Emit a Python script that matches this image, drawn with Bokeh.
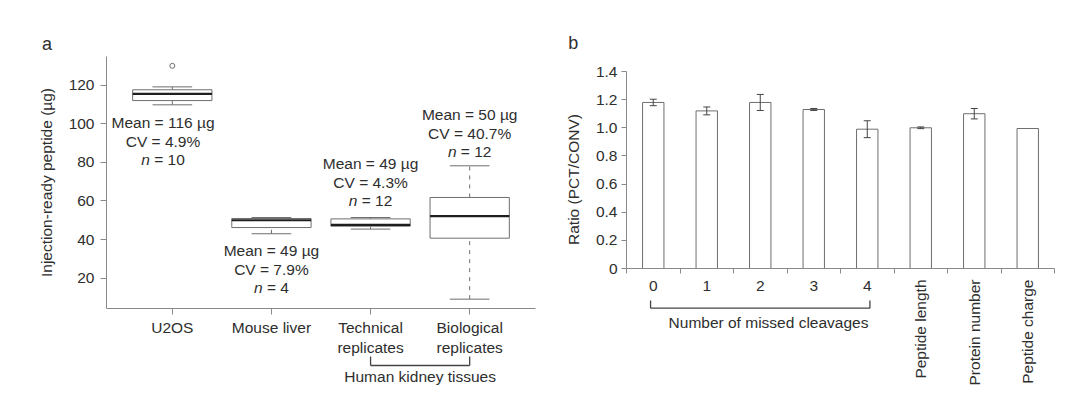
import math
from bokeh.plotting import figure
from bokeh.layouts import row
from bokeh.models import (Range1d, FixedTicker, ColumnDataSource, Label, LabelSet,
                          NumeralTickFormatter)
from bokeh.core.properties import value
from bokeh.embed import file_html
from bokeh.resources import INLINE

# ---------------- data: panel a (box plots) ----------------
groups = ["U2OS", "Mouse liver", "Technical replicates", "Biological replicates"]
group_tick_labels = ["U2OS", "Mouse liver", "Technical\nreplicates", "Biological\nreplicates"]
group_pos = [1, 2, 3, 4]
whisker_low = [109.8, 43.0, 45.4, 9.1]
q1 = [112.0, 46.2, 46.9, 40.7]
median = [115.5, 50.0, 47.6, 52.1]
q3 = [117.6, 50.9, 50.7, 61.8]
whisker_high = [119.1, 51.4, 51.4, 78.2]
outlier_pos = [1]
outlier_value = [130.0]
mean_ug = [116, 49, 49, 50]
cv_pct = [4.9, 7.9, 4.3, 40.7]
n_samples = [10, 4, 12, 12]
y_ticks_a = [20, 40, 60, 80, 100, 120]

# ---------------- data: panel b (bars) ----------------
categories_b = ["0", "1", "2", "3", "4", "Peptide length", "Protein number", "Peptide charge"]
ratio = [1.18, 1.12, 1.18, 1.13, 0.99, 1.00, 1.10, 0.995]
ratio_err = [0.023, 0.028, 0.057, 0.007, 0.060, 0.006, 0.037, 0.0]
y_ticks_b = [0, 0.2, 0.4, 0.6, 0.8, 1.0, 1.2, 1.4]

# ---------------- style / geometry ----------------
FONT = "Liberation Sans"
FS = 15.5
TXT = "#2e2e2e"
AXC = "#8a8a8a"
BOXC = "#6e6e6e"
DARK = "#444444"
FW, FH = 540, 409          # each panel

# axis box of each panel: pixel box inside the panel and the data limits it spans
A_BOX_PX = (106, 535, 56, 308)            # left, right, top, bottom
A_BOX_DATA = (0.336, 4.664, 4.26, 134.84)  # x0, x1, y0, y1
B_BOX_PX = (86, 514, 71, 268)
B_BOX_DATA = (-0.5, 7.5, 0.0, 1.4)


def full_ranges(box_px, box_data):
    l, r, t, b = box_px
    x0, x1, y0, y1 = box_data
    kx = (x1 - x0) / (r - l)
    ky = (y1 - y0) / (b - t)
    return (x0 - l * kx, x1 + (FW - r) * kx), (y0 - (FH - b) * ky, y1 + t * ky)


class Conv:
    def __init__(self, xr, yr):
        self.xr, self.yr = xr, yr

    def x(self, sx):
        return self.xr[0] + sx / FW * (self.xr[1] - self.xr[0])

    def y(self, sy):
        return self.yr[1] - sy / FH * (self.yr[1] - self.yr[0])

    def dyu(self, px):
        return px / FH * (self.yr[1] - self.yr[0])


def style_axis(ax, tick_out=6):
    ax.axis_line_color = AXC
    ax.major_tick_line_color = AXC
    ax.minor_tick_line_color = None
    ax.major_tick_in = 0
    ax.major_tick_out = tick_out
    ax.major_label_text_font = FONT
    ax.major_label_text_font_size = f"{FS}px"
    ax.major_label_text_color = TXT
    ax.axis_label_text_font = FONT
    ax.axis_label_text_font_size = f"{FS}px"
    ax.axis_label_text_font_style = "normal"
    ax.axis_label_text_color = TXT


def base_fig(xr, yr):
    p = figure(width=FW, height=FH, x_range=Range1d(*xr), y_range=Range1d(*yr),
               output_backend="svg", toolbar_location=None, min_border=0,
               min_border_left=0, min_border_right=0, min_border_top=0, min_border_bottom=0,
               background_fill_color="white", border_fill_color="white", outline_line_color=None)
    p.xgrid.visible = False
    p.ygrid.visible = False
    return p


# ================= panel a =================
xr1, yr1 = full_ranges(A_BOX_PX, A_BOX_DATA)
c1 = Conv(xr1, yr1)
p1 = base_fig(xr1, yr1)
style_axis(p1.xaxis[0], 6)
style_axis(p1.yaxis[0], 6)
p1.yaxis.fixed_location = A_BOX_DATA[0]
p1.yaxis.bounds = (A_BOX_DATA[2], A_BOX_DATA[3])
p1.xaxis.fixed_location = A_BOX_DATA[2]
p1.xaxis.bounds = (A_BOX_DATA[0], A_BOX_DATA[1])
p1.yaxis.ticker = FixedTicker(ticks=y_ticks_a)
p1.yaxis.major_label_standoff = 6
p1.yaxis.axis_label = "Injection-ready peptide (µg)"
p1.yaxis.axis_label_standoff = 11
p1.xaxis.ticker = FixedTicker(ticks=group_pos)
p1.xaxis.major_label_overrides = {pos: lab for pos, lab in zip(group_pos, group_tick_labels)}
p1.xaxis.major_label_standoff = 4

BOXW = 0.8
src_a = ColumnDataSource(dict(
    x=group_pos, lo=whisker_low, q1=q1, med=median, q3=q3, hi=whisker_high,
    cap0=[x - BOXW / 4 for x in group_pos], cap1=[x + BOXW / 4 for x in group_pos],
    m0=[x - BOXW / 2 for x in group_pos], m1=[x + BOXW / 2 for x in group_pos],
))
p1.segment(x0="x", y0="q3", x1="x", y1="hi", source=src_a, line_color=BOXC, line_width=1, line_dash="4 5")
p1.segment(x0="x", y0="lo", x1="x", y1="q1", source=src_a, line_color=BOXC, line_width=1, line_dash="4 5")
p1.segment(x0="cap0", y0="hi", x1="cap1", y1="hi", source=src_a, line_color=BOXC, line_width=1)
p1.segment(x0="cap0", y0="lo", x1="cap1", y1="lo", source=src_a, line_color=BOXC, line_width=1)
p1.vbar(x="x", width=BOXW, bottom="q1", top="q3", source=src_a,
        fill_color="white", line_color=BOXC, line_width=1)
p1.segment(x0="m0", y0="med", x1="m1", y1="med", source=src_a, line_color="#1e1e1e", line_width=2.2)
p1.scatter(x=outlier_pos, y=outlier_value, marker="circle", size=5,
           fill_color=None, line_color=BOXC, line_width=1)

# annotation text (Mean / CV / n)
annot_x = [0.906, 2.0, 3.0, 4.0]
annot_y = [100.6, 34.3, 79.3, 104.8]
step = c1.dyu(18.6)
EM = {"=": 0.584, " ": 0.278, "n": 0.556}
n_rest, n_off_n, n_off_rest = [], [], []
for n in n_samples:
    w_n = EM["n"] * FS
    w_sp = EM[" "] * FS
    w_rest = (EM["="] + EM[" "] + 0.556 * len(str(n))) * FS
    W = w_n + w_sp + w_rest
    n_rest.append(f"= {n}")
    n_off_n.append(-W / 2 + w_n)
    n_off_rest.append(-W / 2 + w_n + w_sp)

src_t = ColumnDataSource(dict(
    x=annot_x,
    y_mean=annot_y,
    y_cv=[y - step for y in annot_y],
    y_n=[y - 2 * step for y in annot_y],
    mean_txt=[f"Mean = {m} µg" for m in mean_ug],
    cv_txt=[f"CV = {c}%" for c in cv_pct],
    n_lab=["n"] * len(n_samples),
    n_rest=n_rest,
    off_n=n_off_n,
    off_rest=n_off_rest,
))
common = dict(source=src_t, text_font=value(FONT), text_font_size=value(f"{FS}px"),
              text_color=TXT, text_baseline="middle")
p1.text(x="x", y="y_mean", text="mean_txt", text_align="center", **common)
p1.text(x="x", y="y_cv", text="cv_txt", text_align="center", **common)
p1.text(x="x", y="y_n", text="n_lab", text_align="right", x_offset="off_n",
        text_font_style="italic", **common)
p1.text(x="x", y="y_n", text="n_rest", text_align="left", x_offset="off_rest", **common)

# bracket under Technical / Biological replicates
by_top, by_bot = c1.y(356), c1.y(365)
p1.segment(x0=[group_pos[2], group_pos[2], group_pos[3]],
           y0=[by_top, by_bot, by_bot],
           x1=[group_pos[2], group_pos[3], group_pos[3]],
           y1=[by_bot, by_bot, by_top], line_color=DARK, line_width=1.3)
p1.add_layout(Label(x=(group_pos[2] + group_pos[3]) / 2, y=c1.y(376), text="Human kidney tissues",
                    text_align="center", text_baseline="middle", text_font=FONT,
                    text_font_size=f"{FS}px", text_color=TXT))
p1.add_layout(Label(x=c1.x(46.5), y=c1.y(43), text="a", text_align="center",
                    text_baseline="middle", text_font=FONT, text_font_size="18px", text_color=TXT))

# ================= panel b =================
xr2, yr2 = full_ranges(B_BOX_PX, B_BOX_DATA)
c2 = Conv(xr2, yr2)
p2 = base_fig(xr2, yr2)
style_axis(p2.xaxis[0], 5)
style_axis(p2.yaxis[0], 5)
p2.yaxis.fixed_location = B_BOX_DATA[0]
p2.yaxis.bounds = (B_BOX_DATA[2], B_BOX_DATA[3])
p2.xaxis.fixed_location = B_BOX_DATA[2]
p2.xaxis.bounds = (B_BOX_DATA[0], B_BOX_DATA[1])
pos_b = list(range(len(categories_b)))
bounds_b = [i - 0.5 for i in range(len(categories_b) + 1)]
p2.xaxis.ticker = FixedTicker(ticks=bounds_b)
p2.xaxis.major_label_overrides = {b: "" for b in bounds_b}
p2.yaxis.ticker = FixedTicker(ticks=y_ticks_b)
p2.yaxis.formatter = NumeralTickFormatter(format="0.0")
p2.yaxis.major_label_overrides = {0: "0"}
p2.yaxis.major_label_standoff = 4

p2.vbar(x=pos_b, top=ratio, bottom=0, width=0.4, fill_color="white", line_color=BOXC, line_width=1)

ex = [x for x, e in zip(pos_b, ratio_err) if e > 0]
ehi = [r + e for r, e in zip(ratio, ratio_err) if e > 0]
elo = [r - e for r, e in zip(ratio, ratio_err) if e > 0]
p2.segment(x0=ex, y0=elo, x1=ex, y1=ehi, line_color=DARK, line_width=1)
p2.scatter(x=ex, y=ehi, marker="dash", size=7, line_color=DARK, line_width=1)
p2.scatter(x=ex, y=elo, marker="dash", size=7, line_color=DARK, line_width=1)

n_h = 5
lab_h = ColumnDataSource(dict(x=pos_b[:n_h], y=[c2.y(285)] * n_h, t=categories_b[:n_h]))
p2.add_layout(LabelSet(x="x", y="y", text="t", source=lab_h, text_align="center",
                       text_baseline="middle", text_font=value(FONT),
                       text_font_size=value(f"{FS}px"), text_color=TXT))
lab_v = ColumnDataSource(dict(x=pos_b[n_h:], y=[c2.y(279)] * (len(pos_b) - n_h), t=categories_b[n_h:]))
p2.add_layout(LabelSet(x="x", y="y", text="t", source=lab_v, text_align="right",
                       text_baseline="middle", angle=math.pi / 2, text_font=value(FONT),
                       text_font_size=value(f"{FS}px"), text_color=TXT))

b_top, b_bot = c2.y(300), c2.y(307.7)
bx0, bx1 = pos_b[0] - 0.05, pos_b[4] + 0.05
p2.segment(x0=[bx0, bx0, bx1], y0=[b_top, b_bot, b_bot],
           x1=[bx0, bx1, bx1], y1=[b_bot, b_bot, b_top], line_color=DARK, line_width=1.3)
p2.add_layout(Label(x=c2.x(768 - 540), y=c2.y(321.7), text="Number of missed cleavages",
                    text_align="center", text_baseline="middle", text_font=FONT,
                    text_font_size=f"{FS}px", text_color=TXT))
p2.add_layout(Label(x=c2.x(572.8 - 540), y=c2.y(179), text="Ratio (PCT/CONV)", angle=math.pi / 2,
                    text_align="center", text_baseline="middle", text_font=FONT,
                    text_font_size=f"{FS}px", text_color=TXT))
p2.add_layout(Label(x=c2.x(572.8 - 540), y=c2.y(42), text="b", text_align="center",
                    text_baseline="middle", text_font=FONT, text_font_size="18px", text_color=TXT))

layout = row(p1, p2)
open("out.html", "w").write(file_html(layout, INLINE))
